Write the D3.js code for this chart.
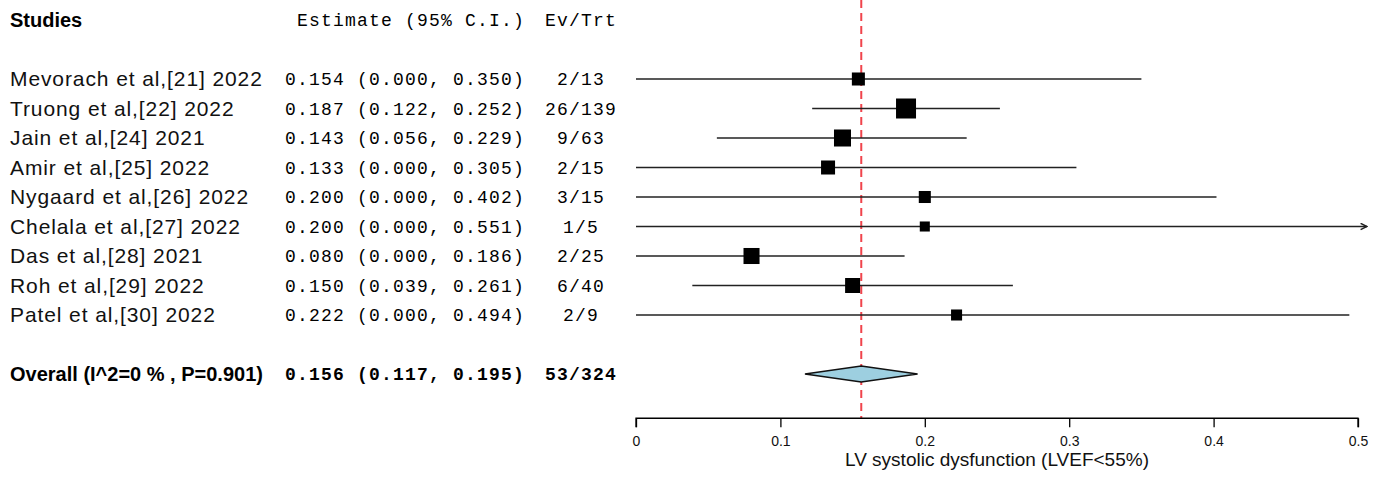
<!DOCTYPE html>
<html>
<head>
<meta charset="utf-8">
<script src="https://cdn.jsdelivr.net/npm/d3@7"></script>
<style>
  body { margin: 0; background: #fff; }
  svg { display: block; }
  .study { font-family: "Liberation Sans", Arial, sans-serif; font-size: 21px; letter-spacing: 0.9px; fill: #111; }
  .study.bold { font-size: 20px; letter-spacing: 0; font-weight: bold; fill: #000; }
  .mono { font-family: "Liberation Mono", "Courier New", monospace; font-size: 18px; letter-spacing: 1.2px; fill: #000; }
  .mono.bold { font-weight: bold; }
  .ci { stroke: #222; stroke-width: 1.4; }
  .axis path, .axis line { stroke: #000; stroke-width: 1.3; }
  .title { font-family: "Liberation Sans", Arial, sans-serif; font-size: 19px; fill: #111; }
</style>
</head>
<body>
<div id="chart"></div>
<script>
const studies = ["Mevorach et al,[21] 2022", "Truong et al,[22] 2022", "Jain et al,[24] 2021",
  "Amir et al,[25] 2022", "Nygaard et al,[26] 2022", "Chelala et al,[27] 2022",
  "Das et al,[28] 2021", "Roh et al,[29] 2022", "Patel et al,[30] 2022"];
const estimates = [0.154, 0.187, 0.143, 0.133, 0.200, 0.200, 0.080, 0.150, 0.222];
const lower = [0.000, 0.122, 0.056, 0.000, 0.000, 0.000, 0.000, 0.039, 0.000];
const upper = [0.350, 0.252, 0.229, 0.305, 0.402, 0.551, 0.186, 0.261, 0.494];
const events = ["2/13", "26/139", "9/63", "2/15", "3/15", "1/5", "2/25", "6/40", "2/9"];
const weights = [8.9, 21.0, 15.2, 10.3, 7.6, 5.3, 13.5, 11.8, 6.4];
const overall = { label: "Overall (I^2=0 % , P=0.901)", est: 0.156, lo: 0.117, hi: 0.195, ev: "53/324" };
const xTicks = [0, 0.1, 0.2, 0.3, 0.4, 0.5];
const xTitle = "LV systolic dysfunction (LVEF<55%)";

const W = 1384, H = 477;
const svg = d3.select("#chart").append("svg").attr("width", W).attr("height", H);

const x = d3.scaleLinear().domain([0, 0.5]).range([636, 1358]);
const row = d3.scaleLinear().domain([0, 1]).range([79, 108.5]);
const box = d3.scaleSqrt().domain([0, d3.max(weights)]).range([0, 20]);
const fmt = d3.format(".3f");
const ciText = (e, l, u) => `${fmt(e)} (${fmt(l)}, ${fmt(u)})`;

const estRight = 525, evCenter = 581;

// header
svg.append("text").attr("class", "study bold").attr("x", 10).attr("y", row(-2)).attr("dy", "0.35em").text("Studies");
svg.append("text").attr("class", "mono").attr("x", estRight).attr("y", row(-2)).attr("dy", "0.35em")
  .attr("text-anchor", "end").text("Estimate (95% C.I.)");
svg.append("text").attr("class", "mono").attr("x", evCenter).attr("y", row(-2)).attr("dy", "0.35em")
  .attr("text-anchor", "middle").text("Ev/Trt");

// reference line at the pooled estimate
svg.append("line")
  .attr("x1", x(overall.est)).attr("x2", x(overall.est))
  .attr("y1", 0).attr("y2", row(11.5))
  .attr("stroke", "#f0444c").attr("stroke-width", 2).attr("stroke-dasharray", "8,5");

svg.append("defs").append("marker")
  .attr("id", "arrow").attr("viewBox", "0 -5 10 10")
  .attr("refX", 9).attr("refY", 0)
  .attr("markerWidth", 8).attr("markerHeight", 8)
  .attr("markerUnits", "userSpaceOnUse")
  .attr("orient", "auto")
  .append("path").attr("d", "M1,-4L9,0L1,4").attr("fill", "none").attr("stroke", "#222").attr("stroke-width", 1.8);

const g = svg.append("g");
studies.forEach((s, i) => {
  const y = row(i);
  g.append("text").attr("class", "study").attr("x", 10).attr("y", y).attr("dy", "0.35em").text(s);
  g.append("text").attr("class", "mono").attr("x", estRight).attr("y", y).attr("dy", "0.35em")
    .attr("text-anchor", "end").text(ciText(estimates[i], lower[i], upper[i]));
  g.append("text").attr("class", "mono").attr("x", evCenter).attr("y", y).attr("dy", "0.35em")
    .attr("text-anchor", "middle").text(events[i]);

  const clipped = upper[i] > 0.5;
  g.append("line").attr("class", "ci")
    .attr("x1", x(lower[i])).attr("x2", clipped ? x(0.5) + 9 : x(upper[i]))
    .attr("y1", y).attr("y2", y)
    .attr("marker-end", clipped ? "url(#arrow)" : null);

  const b = box(weights[i]);
  g.append("rect")
    .attr("x", x(estimates[i]) - b / 2).attr("y", y - b / 2)
    .attr("width", b).attr("height", b).attr("fill", "#000");
});

// overall
const yo = row(10);
svg.append("text").attr("class", "study bold").attr("x", 10).attr("y", yo).attr("dy", "0.35em").text(overall.label);
svg.append("text").attr("class", "mono bold").attr("x", estRight).attr("y", yo).attr("dy", "0.35em")
  .attr("text-anchor", "end").text(ciText(overall.est, overall.lo, overall.hi));
svg.append("text").attr("class", "mono bold").attr("x", evCenter).attr("y", yo).attr("dy", "0.35em")
  .attr("text-anchor", "middle").text(overall.ev);
svg.append("path")
  .attr("d", `M${x(overall.lo)},${yo}L${x(overall.est)},${yo - 8}L${x(overall.hi)},${yo}L${x(overall.est)},${yo + 8}Z`)
  .attr("fill", "#9dcfe0").attr("stroke", "#111").attr("stroke-width", 1.4);

// axis
const axis = svg.append("g").attr("class", "axis")
  .attr("transform", `translate(0,${row(11.5)})`)
  .call(d3.axisBottom(x).tickValues(xTicks).tickSize(9).tickPadding(9).tickFormat(d3.format("")));
axis.attr("font-size", 14).attr("font-family", "Liberation Sans, Arial, sans-serif");
axis.selectAll("text").attr("fill", "#111");
axis.select(".domain").attr("d", `M${x(0)},9V0H${x(0.5)}V9`);

svg.append("text").attr("class", "title").attr("x", (x(0) + x(0.5)) / 2).attr("y", 466)
  .attr("text-anchor", "middle").text(xTitle);
</script>
</body>
</html>
